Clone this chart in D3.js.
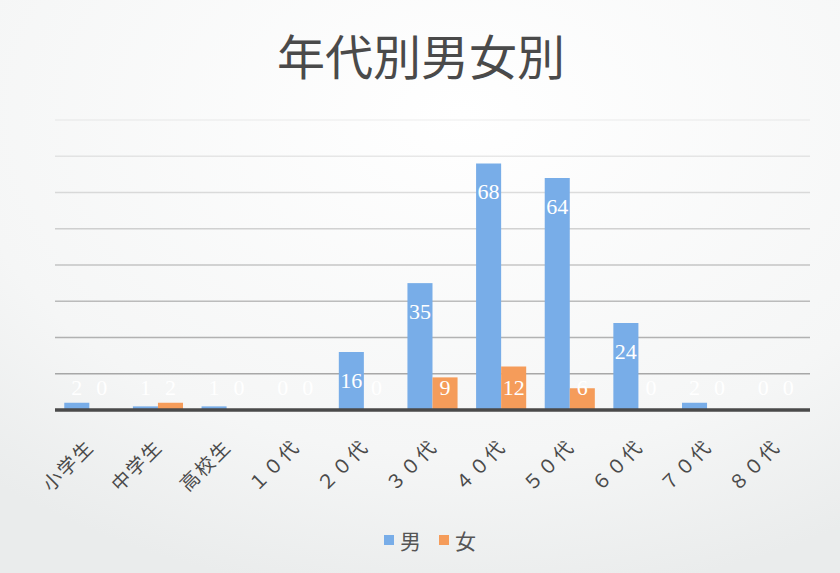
<!DOCTYPE html>
<html><head><meta charset="utf-8">
<script src="https://cdn.jsdelivr.net/npm/d3@7"></script>
<style>body{margin:0;background:#f7f8f8;}svg{display:block;}</style>
</head><body>
<script>
const categories = ["小学生","中学生","高校生","１０代","２０代","３０代","４０代","５０代","６０代","７０代","８０代"];
const maleValues = [2,1,1,0,16,35,68,64,24,2,0];
const femaleValues = [0,2,0,0,0,9,12,6,0,0,0];
const seriesNames = ["男","女"];
const yTicks = [0,10,20,30,40,50,60,70,80];
const colors = ["#78ade8","#f59c5a"];

const W = 840, H = 573;
const svg = d3.select("body").append("svg").attr("width", W).attr("height", H);
const defs = svg.append("defs");
const g = defs.append("radialGradient").attr("id","bg").attr("cx","55%").attr("cy","20%").attr("r","85%");
g.append("stop").attr("offset","0%").attr("stop-color","#ffffff");
g.append("stop").attr("offset","70%").attr("stop-color","#f5f6f6");
g.append("stop").attr("offset","100%").attr("stop-color","#eaecec");
svg.append("rect").attr("width",W).attr("height",H).attr("fill","url(#bg)");

const margin = {left:55, right:30, top:120, bottom:163};
const x0 = d3.scaleBand().domain(categories).range([margin.left, W - margin.right]).paddingInner(0.27).paddingOuter(0.135);
const x1 = d3.scaleBand().domain(seriesNames).range([0, x0.bandwidth()]);
const y = d3.scaleLinear().domain([0,80]).range([H - margin.bottom, margin.top]);

// gridlines, fading toward top
const fade = d3.scaleLinear().domain([0,80]).range([0.8,0.1]);
svg.append("g").selectAll("line").data(yTicks.filter(d=>d>0)).join("line")
  .attr("x1", margin.left).attr("x2", W - margin.right)
  .attr("y1", d=>y(d)).attr("y2", d=>y(d))
  .attr("stroke","#888").attr("stroke-width",1.6).attr("stroke-opacity", d=>fade(d));

const data = categories.map((c,i)=>({cat:c, vals:[{s:"男",v:maleValues[i]},{s:"女",v:femaleValues[i]}]}));
const groups = svg.append("g").selectAll("g").data(data).join("g")
  .attr("transform", d=>`translate(${x0(d.cat)},0)`);
groups.selectAll("rect").data(d=>d.vals).join("rect")
  .attr("x", d=>x1(d.s)).attr("width", x1.bandwidth())
  .attr("y", d=>y(d.v)).attr("height", d=>y(0)-y(d.v))
  .attr("fill", (d,i)=>colors[i]);
groups.selectAll("text").data(d=>d.vals).join("text")
  .attr("x", d=>x1(d.s)+x1.bandwidth()/2)
  .attr("y", d=>Math.min(y(d.v)+28, y(0)-23))
  .attr("text-anchor","middle").attr("dominant-baseline","central")
  .attr("font-family","'Liberation Serif','DejaVu Serif',serif").attr("font-size",22)
  .attr("fill","#ffffff").text(d=>d.v);

// axis line
svg.append("line").attr("x1", margin.left).attr("x2", W - margin.right)
  .attr("y1", y(0)).attr("y2", y(0)).attr("stroke","#4a4a4a").attr("stroke-width",3.5);

// x labels
const xAxis = d3.axisBottom(x0).tickSize(0).tickPadding(0);
const ax = svg.append("g").attr("transform",`translate(0,${y(0)})`).call(xAxis);
ax.select(".domain").remove();
ax.selectAll("text")
  .attr("font-family","'Noto Sans CJK JP',sans-serif").attr("font-size",19).attr("fill","#4a4a4a")
  .attr("letter-spacing",2)
  .attr("text-anchor","end").attr("dy",null).attr("y",0).attr("x",0)
  .attr("transform","translate(6,38) rotate(-45)");

// title
svg.append("text").attr("x",421).attr("y",75).attr("text-anchor","middle")
  .attr("font-family","'Noto Sans CJK JP',sans-serif").attr("font-size",48).attr("fill","#4a4a4a")
  .text("年代別男女別");

// legend
const leg = svg.append("g").attr("transform","translate(384,540)");
seriesNames.forEach((s,i)=>{
  const lg = leg.append("g").attr("transform",`translate(${i*55},0)`);
  lg.append("rect").attr("x",0).attr("y",-5).attr("width",10).attr("height",10).attr("fill",colors[i]);
  lg.append("text").attr("x",16).attr("y",0).attr("dominant-baseline","central")
    .attr("font-family","'Noto Sans CJK JP',sans-serif").attr("font-size",21).attr("fill","#555").text(s);
});
</script>
</body></html>
